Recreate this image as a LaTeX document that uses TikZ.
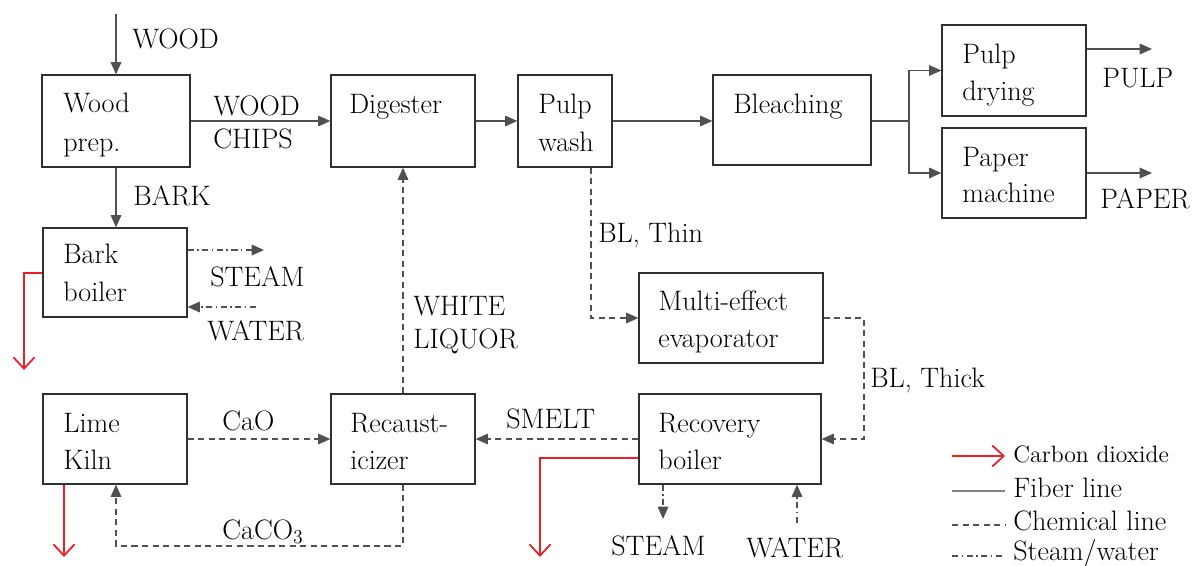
\documentclass[tikz,border=0pt]{standalone}
\usepackage{fontspec}
\usetikzlibrary{arrows.meta}
\definecolor{ln}{HTML}{505050}
\definecolor{bx}{HTML}{303030}
\definecolor{co}{HTML}{E8202A}
\begin{document}
\begin{tikzpicture}[x=0.02cm,y=-0.02cm,
  box/.style={draw=bx,line width=0.7pt,inner sep=0},
  txt/.style={anchor=base west,inner sep=0,font=\fontsize{16}{19}\selectfont,text=black},
  fiber/.style={draw=ln,line width=0.9pt,-{Triangle[length=7pt,width=6pt]}},
  fiberline/.style={draw=ln,line width=0.9pt},
  chem/.style={draw=ln,line width=0.9pt,dash pattern=on 3.5pt off 2.5pt,-{Triangle[length=7pt,width=6pt]}},
  chemline/.style={draw=ln,line width=0.9pt,dash pattern=on 3.5pt off 2.5pt},
  stw/.style={draw=ln,line width=0.9pt,dash pattern=on 3.5pt off 2pt on 0.8pt off 2pt,-{Triangle[length=7pt,width=6pt]}},
  stwline/.style={draw=ln,line width=0.9pt,dash pattern=on 3.5pt off 2pt on 0.8pt off 2pt},
  cdx/.style={draw=co,line width=1pt,-{Straight Barb[length=6.5pt,width=12pt]}}]
\useasboundingbox (0,0) rectangle (1197,565);
% boxes
\node[box,minimum width=2.96cm,minimum height=1.84cm] (wp) at (116,121) {};
\node[box,minimum width=2.88cm,minimum height=1.84cm] (dg) at (403,121) {};
\node[box,minimum width=1.88cm,minimum height=1.84cm] (pw) at (565,121) {};
\node[box,minimum width=3.16cm,minimum height=1.80cm] (bl) at (792,120) {};
\node[box,minimum width=2.88cm,minimum height=1.82cm] (pd) at (1014,70.5) {};
\node[box,minimum width=2.88cm,minimum height=1.80cm] (pm) at (1014,173) {};
\node[box,minimum width=2.88cm,minimum height=1.78cm] (bb) at (115,272.5) {};
\node[box,minimum width=3.68cm,minimum height=1.80cm] (me) at (731,318) {};
\node[box,minimum width=2.88cm,minimum height=1.80cm] (lk) at (115,439) {};
\node[box,minimum width=2.88cm,minimum height=1.80cm] (rc) at (403,439) {};
\node[box,minimum width=3.64cm,minimum height=1.80cm] (rb) at (730,439) {};
% box texts
\node[txt] (t1) at (63,112) {Wood};
\node[txt] (t2) at (63,151) {prep.};
\node[txt] (t3) at (349,113) {Digester};
\node[txt] (t4) at (538,113) {Pulp};
\node[txt] (t5) at (538,151) {wash};
\node[txt] (t6) at (733,113) {Bleaching};
\node[txt] (t7) at (962,63) {Pulp};
\node[txt] (t8) at (962,100) {drying};
\node[txt] (t9) at (962,166) {Paper};
\node[txt] (t10) at (962,202) {machine};
\node[txt] (t11) at (63,263) {Bark};
\node[txt] (t12) at (63,301) {boiler};
\node[txt] (t13) at (658,310) {Multi-effect};
\node[txt] (t14) at (658,347) {evaporator};
\node[txt] (t15) at (63,432) {Lime};
\node[txt] (t16) at (63,469) {Kiln};
\node[txt] (t17) at (350,432) {Recaust-};
\node[txt] (t18) at (350,469) {icizer};
\node[txt] (t19) at (658,432) {Recovery};
\node[txt] (t20) at (658,469) {boiler};
% labels
\node[txt] (l1) at (132,48) {WOOD};
\node[txt] (l2) at (213,115) {WOOD};
\node[txt] (l3) at (213,148) {CHIPS};
\node[txt] (l4) at (133,205) {BARK};
\node[txt] (l5) at (210,286) {STEAM};
\node[txt] (l6) at (207,340) {WATER};
\node[txt] (l7) at (598,242) {BL, Thin};
\node[txt] (l8) at (870,387) {BL, Thick};
\node[txt] (l9) at (413,315) {WHITE};
\node[txt] (l10) at (413,348) {LIQUOR};
\node[txt] (l11) at (506,428) {SMELT};
\node[txt] (l12) at (222,430) {CaO};
\node[txt] (l13) at (222,539) {CaCO\textsubscript{3}};
\node[txt] (l14) at (611,555) {STEAM};
\node[txt] (l15) at (746,557) {WATER};
\node[txt] (l16) at (1102,87) {PULP};
\node[txt] (l17) at (1100,208) {PAPER};
% free ends
\coordinate (woodin) at (116,14);
\coordinate (bbst) at (264,250);
\coordinate (bbwa) at (256,307);
\coordinate (pulpout) at (1152,49);
\coordinate (paperout) at (1152,173);
\coordinate (split) at (909,121);
\coordinate (rbst) at (663,519);
\coordinate (rbwa) at (797,523);
\coordinate (co1) at (24,370);
\coordinate (co2) at (64,557);
\coordinate (co3) at (540,557);
% fiber line
\draw[fiber] (woodin) -- (wp.north);
\draw[fiber] (wp.east) -- (dg.west);
\draw[fiber] (dg.east) -- (pw.west);
\draw[fiber] (pw.east) -- (pw.east -| bl.west);
\draw[fiberline] (bl.east |- split) -- (split);
\draw[fiber] (split) |- (pd.west);
\draw[fiber] (split) |- (pm.west);
\draw[fiber] (pd.east |- pulpout) -- (pulpout);
\draw[fiber] (pm.east) -- (paperout);
\draw[fiber] (wp.south) -- (wp.south |- bb.north);
% steam/water
\draw[stw] (bb.east |- bbst) -- (bbst);
\draw[stw] (bbwa) -- (bb.east |- bbwa);
\draw[stw] (rbst |- rb.south) -- (rbst);
\draw[stw] (rbwa) -- (rbwa |- rb.south);
% chemical
\draw[chem] (pw.south -| 591,0) |- (me.west);
\draw[chem] (me.east) -| (864,439) -- (rb.east);
\draw[chem] (rb.west) -- (rc.east);
\draw[chem] (lk.east) -- (rc.west);
\draw[chem] (rc.north) -- (dg.south);
\draw[chem] (rc.south) -- (403,546) -| (lk.south -| 116,0);
% carbon dioxide
\draw[cdx] (bb.west |- 0,273) -| (co1);
\draw[cdx] (lk.south -| co2) -- (co2);
\draw[cdx] (rb.west |- 0,458) -| (co3);
% legend
\coordinate (lg1a) at (952,456); \coordinate (lg1b) at (1005,456);
\coordinate (lg2a) at (952,491); \coordinate (lg2b) at (1005,491);
\coordinate (lg3a) at (952,525); \coordinate (lg3b) at (1005,525);
\coordinate (lg4a) at (952,556); \coordinate (lg4b) at (1005,556);
\draw[cdx] (lg1a) -- (lg1b);
\draw[fiberline,draw=gray] (lg2a) -- (lg2b);
\draw[chemline] (lg3a) -- (lg3b);
\draw[stwline] (lg4a) -- (lg4b);
\node[txt,font=\fontsize{13.5}{15}\selectfont] (g1) at (1013,462) {Carbon dioxide};
\node[txt] (g2) at (1013,497) {Fiber line};
\node[txt] (g3) at (1013,530) {Chemical line};
\node[txt] (g4) at (1013,560) {Steam/water};
\end{tikzpicture}
\end{document}
